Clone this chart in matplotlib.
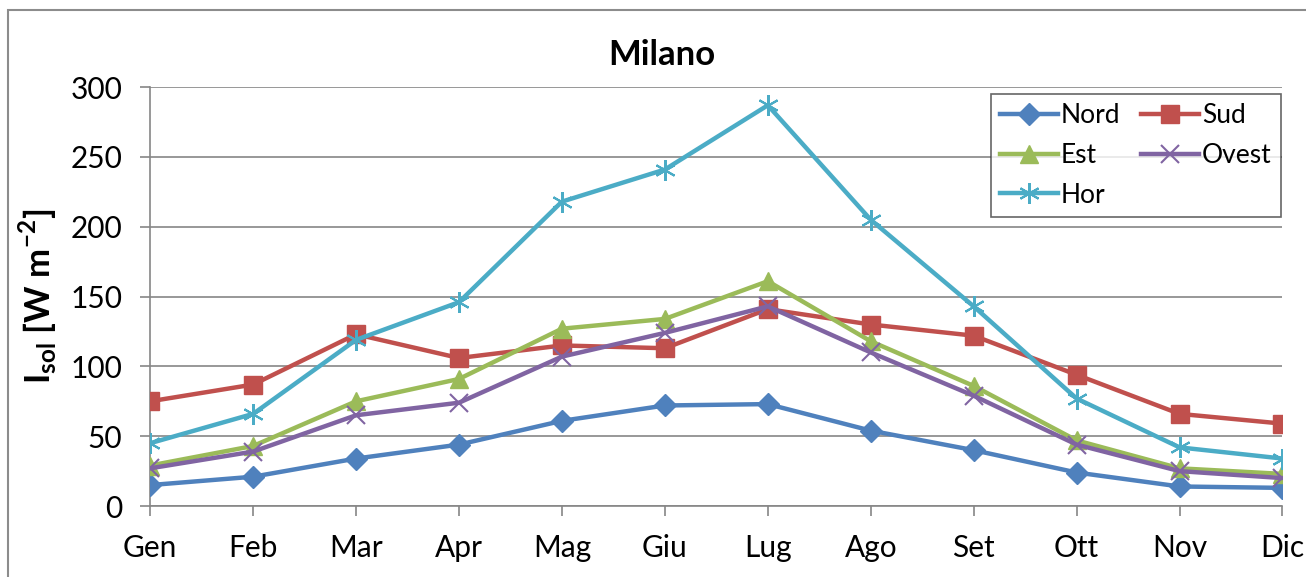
import matplotlib.pyplot as plt
from matplotlib.patches import Rectangle

# dati
mesi = ["Gen", "Feb", "Mar", "Apr", "Mag", "Giu", "Lug", "Ago", "Set", "Ott", "Nov", "Dic"]
nord = [15, 21, 34, 44, 61, 72, 73, 54, 40, 24, 14, 13]
sud = [75, 87, 123, 106, 115, 113, 141, 130, 122, 94, 66, 59]
est = [29, 43, 75, 91, 127, 134, 161, 118, 86, 47, 27, 23]
ovest = [27, 39, 65, 74, 107, 124, 143, 110, 79, 44, 25, 20]
hor = [45, 66, 119, 146, 218, 241, 287, 205, 143, 77, 42, 34]
y_ticks = [0, 50, 100, 150, 200, 250, 300]

plt.rcParams['font.family'] = ['Lato', 'DejaVu Sans']

fig = plt.figure(figsize=(13.06, 5.77), dpi=100)
ax = fig.add_axes([0.115, 0.123, 0.867, 0.726])

# cornice esterna del grafico
fig.patches.append(Rectangle((0.006, -0.1), 1.1, 1.083, transform=fig.transFigure,
                             fill=False, edgecolor="#8c8c8c", linewidth=1.5))

x = list(range(len(mesi)))
lw = 3.2
ax.plot(x, nord, color="#4F81BD", lw=lw, marker="D", ms=11, label="Nord", zorder=3)
ax.plot(x, sud, color="#C0504D", lw=lw, marker="s", ms=13, label="Sud", zorder=3)
ax.plot(x, est, color="#9BBB59", lw=lw, marker="^", ms=13, label="Est", zorder=3)
ax.plot(x, ovest, color="#8064A2", lw=lw, marker="x", ms=13, mew=1.5, label="Ovest", zorder=3)
ax.plot(x, hor, color="#4BACC6", lw=lw, marker=(6, 2, 0), ms=15, mew=1.5, label="Hor", zorder=3)

ax.set_xlim(0, len(mesi) - 1)
ax.set_ylim(0, 300)
ax.set_xticks(x)
ax.set_xticklabels(mesi)
ax.set_yticks(y_ticks)
ax.tick_params(axis="both", labelsize=21.5, color="#868686", length=7, width=1.2)
ax.tick_params(axis="x", pad=13)
ax.tick_params(axis="y", pad=13)
ax.grid(axis="y", color="#868686", lw=1.2)
ax.set_axisbelow(True)
for s in ["top", "right"]:
    ax.spines[s].set_visible(False)
for s in ["left", "bottom"]:
    ax.spines[s].set_color("#868686")
    ax.spines[s].set_linewidth(1.2)

fig.text(0.507, 0.905, "Milano", fontsize=25, fontweight="bold", ha="center", va="center")
ax.set_ylabel(r"I$_{\mathregular{sol}}$ [W m$^{\mathregular{-2}}$]", fontsize=25, fontweight="bold", labelpad=8)

# legenda su due colonne, riempita per righe
h, l = ax.get_legend_handles_labels()
order = [0, 2, 4, 1, 3]
leg = ax.legend([h[i] for i in order], [l[i] for i in order], ncol=2, loc="upper right",
                bbox_to_anchor=(0.9985, 0.983), fontsize=19, frameon=True, fancybox=False,
                handlelength=2.2, handletextpad=0.1, columnspacing=0.8, labelspacing=0.55,
                borderpad=0.35, borderaxespad=0)
leg.get_frame().set_edgecolor("#404040")
leg.get_frame().set_linewidth(1.2)

fig.savefig("out.png", dpi=100)
